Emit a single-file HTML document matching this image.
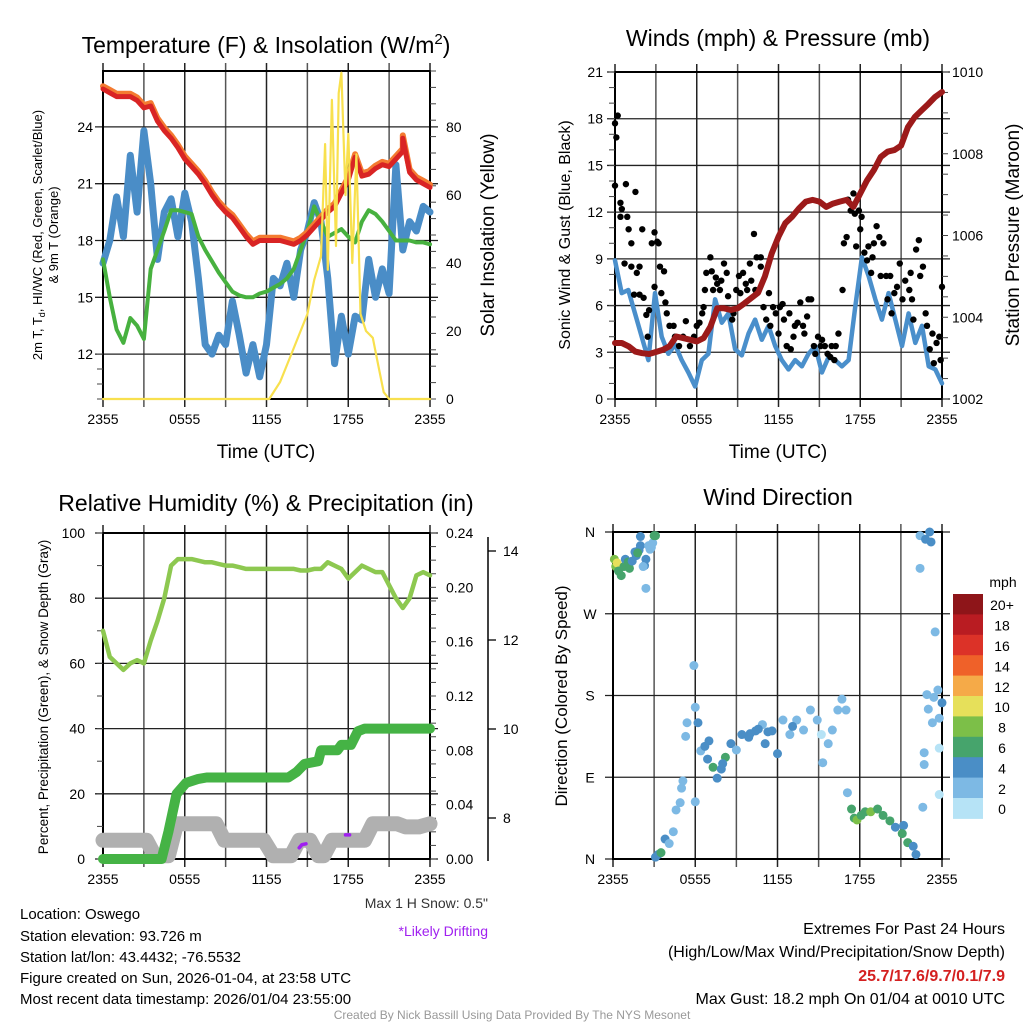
<!DOCTYPE html>
<html><head><meta charset="utf-8"><style>
html,body{margin:0;padding:0;background:#fff;}
svg{display:block;font-family:"Liberation Sans",Arial,sans-serif;}
</style></head><body>
<svg id="c" width="1024" height="1024" viewBox="0 0 1024 1024" xmlns="http://www.w3.org/2000/svg">
<rect width="1024" height="1024" fill="#fff"/>
<text x="266" y="53" font-size="23" text-anchor="middle">Temperature (F) &amp; Insolation (W/m<tspan dy="-9" font-size="15">2</tspan><tspan dy="9">)</tspan></text>
<text x="778" y="46" font-size="23" text-anchor="middle">Winds (mph) &amp; Pressure (mb)</text>
<text x="266" y="511" font-size="23" text-anchor="middle">Relative Humidity (%) &amp; Precipitation (in)</text>
<text x="778" y="505" font-size="23" text-anchor="middle">Wind Direction</text>

<text transform="translate(42,235) rotate(-90)" font-size="13" text-anchor="middle">2m T, T<tspan font-size="9" dy="3">d</tspan><tspan dy="-3">, HI/WC (Red, Green, Scarlet/Blue)</tspan></text>
<text transform="translate(58,235) rotate(-90)" font-size="13" text-anchor="middle">&amp; 9m T (Orange)</text>
<text transform="translate(494,235) rotate(-90)" font-size="19" text-anchor="middle">Solar Insolation (Yellow)</text>
<text x="266" y="458" font-size="19" text-anchor="middle">Time (UTC)</text>
<text transform="translate(570,235) rotate(-90)" font-size="16" text-anchor="middle">Sonic Wind &amp; Gust (Blue, Black)</text>
<text transform="translate(1019,235) rotate(-90)" font-size="19" text-anchor="middle">Station Pressure (Maroon)</text>
<text x="778" y="458" font-size="19" text-anchor="middle">Time (UTC)</text>
<text transform="translate(48,697) rotate(-90)" font-size="13.5" text-anchor="middle">Percent, Precipitation (Green), &amp; Snow Depth (Gray)</text>
<text transform="translate(567,696) rotate(-90)" font-size="17" text-anchor="middle">Direction (Colored By Speed)</text>
<text x="1003" y="587" font-size="14" text-anchor="middle">mph</text>

<g font-size="15">
<text x="20" y="919">Location: Oswego</text>
<text x="20" y="941">Station elevation: 93.726 m</text>
<text x="20" y="962">Station lat/lon: 43.4432; -76.5532</text>
<text x="20" y="983">Figure created on Sun, 2026-01-04, at 23:58 UTC</text>
<text x="20" y="1004">Most recent data timestamp: 2026/01/04 23:55:00</text>
</g>
<text x="488" y="908" font-size="14" text-anchor="end" fill="#333">Max 1 H Snow: 0.5"</text>
<text x="488" y="936" font-size="14" text-anchor="end" fill="#a020f0">*Likely Drifting</text>
<g font-size="16" text-anchor="end">
<text x="1005" y="934">Extremes For Past 24 Hours</text>
<text x="1005" y="957">(High/Low/Max Wind/Precipitation/Snow Depth)</text>
<text x="1005" y="981" fill="#d42020" font-weight="bold">25.7/17.6/9.7/0.1/7.9</text>
<text x="1005" y="1004">Max Gust: 18.2 mph On 01/04 at 0010 UTC</text>
</g>
<text x="512" y="1019" font-size="12" text-anchor="middle" fill="#999">Created By Nick Bassill Using Data Provided By The NYS Mesonet</text>
</svg>
<script>
// ---------- DATA ----------
const timeLabels = ["2355","0555","1155","1755","2355"];
const temp2m = [26.0,25.8,25.6,25.6,25.6,25.4,25.0,25.1,24.3,23.8,23.4,22.9,22.3,21.9,21.5,21.0,20.4,19.9,19.5,19.2,18.7,18.2,17.8,18.0,18.0,18.0,18.0,17.9,17.8,18.0,18.3,18.7,19.1,19.5,19.8,20.5,21.2,22.4,21.4,21.5,21.8,22.0,21.9,22.3,22.7,23.0,23.2,23.3,23.5];
const temp2mEnd = [23.4,21.6,21.2,21.0,20.8];
const dewpoint = [17.0,15.0,13.3,12.6,13.9,13.5,12.8,16.5,17.5,18.5,19.6,19.6,19.5,19.4,18.2,17.5,16.9,16.3,15.8,15.3,15.1,15.0,15.0,15.2,15.3,15.5,15.7,16.0,16.5,17.5,18.5,19.8,19.0,18.2,18.4,18.6,18.2,17.9,19.0,19.6,19.4,19.0,18.5,18.0,18.0,18.0,17.9,17.9,17.8];
const windChill = [16.8,18.0,20.3,18.2,22.5,19.5,23.8,21.0,17.0,19.5,20.2,18.2,20.5,19.0,16.0,12.5,12.0,13.0,12.5,14.8,13.0,11.0,12.5,10.8,12.5,16.0,15.6,16.8,15.0,17.5,18.5,20.0,19.0,16.0,11.5,14.0,12.0,14.0,13.8,17.0,15.0,16.5,15.2,22.0,17.5,19.0,18.5,19.8,19.5];
const solarHours = [0,12.2,13,14,15,15.5,16,16.3,16.5,16.8,17.1,17.3,17.5,17.8,18,18.3,18.6,18.9,19.3,19.8,20.2,20.6,21,24];
const solar = [0,0,5,15,25,35,42,75,38,88,45,90,96,60,78,40,72,25,20,18,10,2,0,0];
const tempTicks = [12,15,18,21,24];
const solarTicks = [0,20,40,60,80];
const pressure = [1003.37,1003.37,1003.29,1003.16,1003.12,1003.1,1003.15,1003.2,1003.29,1003.53,1003.49,1003.45,1003.41,1003.49,1003.77,1004.22,1004.22,1004.18,1004.22,1004.34,1004.47,1004.6,1005.0,1005.56,1005.97,1006.3,1006.46,1006.66,1006.83,1006.87,1006.83,1006.7,1006.78,1006.83,1006.87,1006.7,1007.03,1007.35,1007.6,1007.92,1008.05,1008.09,1008.2,1008.65,1008.9,1009.06,1009.22,1009.39,1009.51];
const wind = [8.9,6.8,7.0,5.5,4.0,2.5,6.8,4.0,2.9,3.5,2.5,1.7,0.8,2.5,2.9,6.4,4.9,5.5,3.2,2.8,4.2,5.1,3.8,4.7,3.4,2.5,1.9,2.5,2.1,2.9,3.4,1.7,2.7,2.5,2.1,2.5,5.9,9.1,7.9,6.4,5.1,6.8,5.1,3.4,5.5,3.6,4.7,2.1,1.9,1.0];
const gustHours = [0,0.2,0.1,0,0.4,0.5,0.4,0.7,0.9,1,0.8,1.2,1.2,1.5,1.6,1.8,1.4,1.8,2,2.1,2.3,2.4,2.5,2.7,2.9,3.1,3.2,3.3,3.6,2.9,3.4,3.7,3.8,4,4.3,4.4,4.7,5,5.2,5.5,5.8,6,6.2,6.4,6.5,6.6,6.7,7,7.1,7.2,7.4,7.5,7.7,7.8,8,8.2,8.3,8.6,8.7,8.9,9.1,9.2,9.4,9.6,9.7,9.9,10,10.2,10.3,10.4,10.7,10.7,10.9,11.1,11.3,11.4,11.6,11.8,12,12.1,12.3,12.4,12.6,12.8,12.9,13.1,13.2,13.4,13.6,13.8,13.9,14.1,14.2,14.4,14.6,14.7,14.9,15.1,15.2,15.4,15.6,15.8,15.9,16.1,16.2,16.4,16.7,16.8,17,17.1,17.3,17.5,17.6,17.7,17.9,18,18.1,18.3,18.5,18.6,18.8,18.9,19,19.2,19.4,19.5,19.7,19.9,20,20.2,20.3,20.5,20.7,20.9,21.1,21.3,21.6,21.7,21.8,21.9,22.1,22.3,22.4,22.6,22.8,22.9,23.1,23.3,23.4,23.6,23.8,23.9,24];
const gust = [17.7,18.2,16.8,13.7,12.6,12.2,11.7,8.7,11.7,10.9,13.8,10,8.5,13.3,8.1,8.5,6.7,6.7,10.9,6.5,5.4,4,5.7,10,10.7,10.1,10,8.5,8.2,7.2,6.8,6.2,5.5,4.7,4.7,4,3.4,4,5,3.4,4,4.7,4.9,5.5,5.9,7,8.1,9.1,8.2,7,7.8,7.4,7,7.6,8.7,8.1,6.6,5.1,5.5,7,7.9,6.8,8.1,7.4,7,8.7,7.6,10.6,7,9.1,9.1,8.5,5.9,5.1,6.8,4.7,5.9,5.5,4.2,5.9,6.1,5.1,3.4,5.5,3.2,4,4.7,4.9,6.2,4.7,4.2,5.3,6.4,6.4,3.4,2.9,4,3.4,3.8,3.4,2.9,2.7,3.4,2.5,3.4,4.2,7,10,10.4,12.8,12.1,13.2,11.9,9.8,12.1,10.9,11.7,9.4,8.9,9.8,8.1,9.1,10,11.1,10.4,7.9,10,7.9,6.4,7.9,5.5,6.8,7.2,8.7,6.4,7.6,7,8.1,6.4,5.1,9.6,10.2,7.9,8.5,5.5,4.7,3.2,4.2,2.3,3.6,4,2.5,7.2];
const windTicks = [0,3,6,9,12,15,18,21];
const pressTicks = [1002,1004,1006,1008,1010];
const rh = [70,62,60,58,60,61,60,67,73,80,90,92,92,92,91.5,91,91,90.5,90,90,89.5,89,89,89,89,89,89,89,89,88.5,88.5,89,89,91,90,89,86,88,90,89,88,88,84,80,77,80,87,88,87];
const precipHours = [0,4.3,4.8,5.4,6.1,7.0,7.6,13.6,14.2,14.8,15.8,16.0,17.2,17.5,18.2,18.7,19.2,24];
const precip = [0,0,0.02,0.048,0.056,0.059,0.06,0.06,0.064,0.07,0.072,0.08,0.08,0.084,0.084,0.094,0.096,0.096];
const snowHours = [0,3.2,3.8,4.8,5.4,8.3,8.9,11.8,12.5,13.8,14.4,15.2,15.8,16.2,16.8,17.6,18.2,19.2,19.8,21.6,22.2,23.2,24];
const snow = [7.5,7.5,7.15,7.15,7.87,7.87,7.5,7.5,7.15,7.15,7.5,7.5,7.15,7.15,7.5,7.5,7.5,7.5,7.87,7.87,7.8,7.8,7.87];
const driftHours1 = [14.4,14.6,14.9];
const drift1 = [7.33,7.4,7.42];
const driftHours2 = [17.8,18.1];
const drift2 = [7.62,7.62];
const rhTicks = [0,20,40,60,80,100];
const precipTicks = ["0.00","0.04","0.08","0.12","0.16","0.20","0.24"];
const snowTicks = [8,10,12,14];
const dirHours = [0.1,0.2,0.3,0.4,0.6,0.8,0.9,1.1,1.2,1.4,1.6,1.7,1.9,2.0,2.0,1.8,2.4,2.3,2.2,2.4,2.6,2.8,2.9,3.0,3.1,2.7,3.1,3.3,3.5,3.8,4.1,4.4,4.6,4.9,5.0,5.1,5.4,5.3,5.9,6.0,6.0,6.2,6.4,6.7,6.9,7.3,7.6,7.9,8.2,8.6,9.0,9.4,9.9,10.4,10.9,11.1,11.6,12.0,12.4,12.9,13.4,13.9,14.4,14.9,15.2,15.3,15.7,16.0,16.4,16.7,17.0,17.1,17.4,17.6,17.8,18.1,18.4,18.8,19.3,19.7,20.2,20.6,21.2,21.1,21.5,21.9,22.1,22.4,22.8,23.1,23.2,22.4,23.5,22.9,23.4,23.7,23.0,23.3,23.8,24.0,22.7,22.7,22.6,23.8,23.8,10.0,10.6,11.3,13.1,8.0,7.0];
const dirDeg = [330,322,326,317,312,322,330,327,320,328,338,334,340,345,355,337,330,323,322,298,345,343,348,356,356,341,2,5,7,22,17,30,54,62,78,86,150,135,213,167,63,150,119,124,110,101,89,99,112,127,120,137,134,141,148,127,141,116,153,137,153,142,164,153,137,106,127,142,164,176,164,73,55,45,43,48,52,52,55,48,42,35,37,28,18,14,5,356,352,360,349,320,250,181,178,186,165,150,155,172,117,104,57,71,122,138,143,140,146,105,130];
const dirSpeed = [8,9,10,7,6,6,5,7,6,4,4,5,4,4,4,7,4,4,3,2,2,2,2,6,6,2,4,5,6,4,2,2,2,2,2,2,2,2,2,2,2,4,2,4,4,6,4,4,6,4,2,4,4,4,2,4,4,4,2,2,2,2,2,2,1,2,2,2,2,2,2,2,6,7,8,6,6,8,6,6,6,4,4,6,6,4,4,2,4,4,4,2,2,2,2,2,2,2,2,4,2,2,2,1,1,4,4,4,4,4,4];
const colorLabels = ["20+","18","16","14","12","10","8","6","4","2","0"];
const binColors = ["#b6e3f6","#7db9e4","#4a8ec6","#46a46c","#7cbf48","#e6e05a","#f5aa48","#ef6129","#dc3228","#b91c22","#8e1519"];

// ---------- HELPERS ----------
const svg = document.getElementById('c');
const NS = 'http://www.w3.org/2000/svg';
function mk(tag, attrs, parent){const e=document.createElementNS(NS,tag);for(const k in attrs)e.setAttribute(k,attrs[k]);(parent||svg).appendChild(e);return e;}
function lin(d0,d1,r0,r1){return v=>r0+(v-d0)/(d1-d0)*(r1-r0);}
function even(arr){return arr.map((_,i)=>i*24/(arr.length-1));}
function pathD(xs,ys,xf,yf){return xs.map((h,i)=>(i?'L':'M')+xf(h).toFixed(1)+' '+yf(ys[i]).toFixed(1)).join(' ');}
function line(xs,ys,xf,yf,color,w,name){
  const p=mk('path',{d:pathD(xs,ys,xf,yf),fill:'none',stroke:color,'stroke-width':w,'stroke-linejoin':'round','stroke-linecap':'round'});
  
  
  return p;
}
function panelGrid(L,R,T,B,yvals,yf,name){
  const g=mk('g',{});
  
  
  for(let i=0;i<=8;i++){const x=L+(R-L)*i/8;mk('line',{x1:x,x2:x,y1:T-8,y2:B+8,stroke:i%2?'#555':'#222','stroke-width':1.5},g);}
  yvals.forEach(v=>{const y=yf(v);mk('line',{x1:L-8,x2:R+8,y1:y,y2:y,stroke:'#222','stroke-width':1.3},g);});
  mk('rect',{x:L,y:T,width:R-L,height:B-T,fill:'none',stroke:'#000','stroke-width':2},g);
  timeLabels.forEach((t,i)=>{const tx=mk('text',{x:L+(R-L)*i/4,y:B+25,'font-size':14,'text-anchor':'middle'},g);tx.textContent=t;});
}
function ticks(vals,yf,x,anchor,dx,name,fmt){
  const g=mk('g',{});
  
  
  vals.forEach(v=>{const t=mk('text',{x:x,y:yf(+v)+5,'font-size':14,'text-anchor':anchor},g);t.textContent=fmt?fmt(v):v;});
}
function minorTicks(x0,x1,T,B,n){for(let i=0;i<=n;i++){const y=T+(B-T)*i/n;mk('line',{x1:x0,x2:x1,y1:y,y2:y,stroke:'#444','stroke-width':1});}}

// ---------- PANEL 1: Temperature ----------
{
const L=103,R=430,T=71,B=399;
const x=lin(0,24,L,R), y=lin(9.63,26.95,B,T), ys=lin(0,96.5,B,T);
panelGrid(L,R,T,B,tempTicks,y,'temperature-grid');
minorTicks(97,103,B-45,B,3);minorTicks(430,436,T,B,20);
ticks(tempTicks,y,93,'end',0,'temperature-ticks');
ticks(solarTicks,ys,446,'start',0,'insolation-ticks');
const h=even(temp2m);
line(h,windChill,x,y,'#4a8dc7',7,'wind-chill-line');
line(h,dewpoint,x,y,'#47b13f',4,'dewpoint-line');
const hEnd=[22.0,22.5,23.0,23.5,24.0];
line(h.slice(0,45).concat(hEnd),temp2m.slice(0,45).concat(temp2mEnd).map(v=>v+0.15),x,y,'#f47b31',6,'temp-9m-line');
line(h.slice(0,45).concat(hEnd),temp2m.slice(0,45).concat(temp2mEnd),x,y,'#d92424',5,'temp-2m-line');
line(solarHours,solar,x,ys,'#f8e04e',2.2,'solar-insolation-line');
}
// ---------- PANEL 2: Winds ----------
{
const L=615,R=942,T=72,B=399;
const x=lin(0,24,L,R), y=lin(0,21,B,T), yp=lin(1002,1010,B,T);
panelGrid(L,R,T,B,windTicks,y,'winds-grid');
minorTicks(609,615,T,B,21);minorTicks(942,948,T,B,16);
ticks(windTicks,y,603,'end',0,'wind-ticks');
ticks(pressTicks,yp,952,'start',0,'pressure-ticks');
line(even(wind),wind,x,y,'#4a8fcb',4.5,'sonic-wind-line');
const g=mk('g',{});


gust.forEach((v,i)=>{const c=mk('circle',{cx:x(gustHours[i]),cy:y(v),r:3.2,fill:'#000'},g);
 
 });
line(even(pressure),pressure,x,yp,'#9c1a1a',6,'pressure-line');
}
// ---------- PANEL 3: Humidity ----------
{
const L=103,R=430,T=533,B=859;
const x=lin(0,24,L,R), y=lin(0,100,B,T), yq=lin(0,0.24,B,T), yn=lin(8,14,818,551);
panelGrid(L,R,T,B,rhTicks,y,'humidity-grid');
minorTicks(97,103,T,B,10);minorTicks(430,436,T,B,24);
mk('line',{x1:488,x2:488,y1:537,y2:861,stroke:'#000','stroke-width':1.5});
snowTicks.forEach(v=>mk('line',{x1:488,x2:496,y1:yn(v),y2:yn(v),stroke:'#000','stroke-width':1.3}));
ticks(rhTicks,y,85,'end',0,'humidity-ticks');
ticks(precipTicks,yq,446,'start',0,'precip-ticks');
ticks(snowTicks,yn,503,'start',0,'snow-ticks');
line(snowHours,snow,x,yn,'#b0b0b0',15,'snow-depth-line');
line(precipHours,precip,x,yq,'#45b345',10,'precip-line');
line(even(rh),rh,x,y,'#8dc850',4.5,'humidity-line');
line(driftHours1,drift1,x,yn,'#a020f0',3.5,'drift-mark-1');
line(driftHours2,drift2,x,yn,'#a020f0',3.5,'drift-mark-2');
}
// ---------- PANEL 4: Wind direction ----------
{
const L=613,R=942,T=532,B=859;
const x=lin(0,24,L,R), y=lin(0,360,B,T);
panelGrid(L,R,T,B,[0,90,180,270,360],y,'direction-grid');
ticks([0,90,180,270,360],y,590,'middle',0,'direction-ticks',v=>['N','E','S','W','N'][v/90]);
const g=mk('g',{});


dirHours.forEach((hh,i)=>{const bin=Math.min(10,Math.floor(dirSpeed[i]/2));
 const c=mk('circle',{cx:x(hh),cy:y(dirDeg[i]),r:4.5,fill:binColors[bin]},g);
 
 });
const cb=mk('g',{});


const cy0=594,ch=20.4;
colorLabels.forEach((lab,i)=>{mk('rect',{x:953,y:cy0+i*ch,width:30,height:ch+0.5,fill:binColors[10-i]},cb);
 const t=mk('text',{x:1002,y:cy0+i*ch+ch/2+6,'font-size':14,'text-anchor':'middle'},cb);t.textContent=lab;});
}
</script>
</body></html>
